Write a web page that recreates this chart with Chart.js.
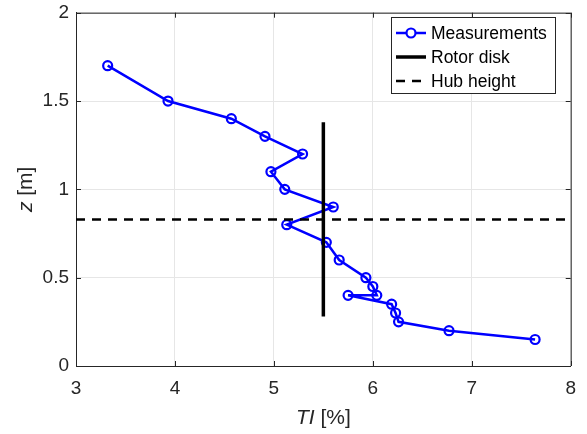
<!DOCTYPE html>
<html>
<head>
<meta charset="utf-8">
<title>Turbulence intensity profile</title>
<script src="https://cdn.jsdelivr.net/npm/chart.js@4.4.1/dist/chart.umd.min.js"></script>
<style>
  html, body { margin: 0; padding: 0; background: #fff; }
  #wrap { width: 587px; height: 434px; }
</style>
</head>
<body>
<div id="wrap"><canvas id="tiChart" width="587" height="434"></canvas></div>
<script>
// measured turbulence intensity [%] against height z [m]
const tiValues = [3.32, 3.93, 4.57, 4.91, 5.29, 4.97, 5.11, 5.60, 5.13, 5.53, 5.66, 5.93, 6.00, 6.04, 5.75, 6.19, 6.23, 6.26, 6.77, 7.64];
const zValues  = [1.70, 1.50, 1.40, 1.30, 1.20, 1.10, 1.00, 0.90, 0.80, 0.70, 0.60, 0.50, 0.45, 0.40, 0.40, 0.35, 0.30, 0.25, 0.20, 0.15];

// turbine geometry
const hubHeight = 0.83;
const rotorBottom = 0.28;
const rotorTop = 1.38;
const rotorX = 5.5;

const xRange = [3, 8];
const yRange = [0, 2];

const FONT = "'Liberation Sans', Arial, Helvetica, sans-serif";
const AXIS_COLOR = '#262626';

const measurements = tiValues.map((t, i) => ({ x: t, y: zValues[i] }));
const rotorLine = [{ x: rotorX, y: rotorBottom }, { x: rotorX, y: rotorTop }];
const hubLine = [{ x: xRange[0], y: hubHeight }, { x: xRange[1], y: hubHeight }];

// matlab-ish box: top/right border plus inward tick marks
const boxPlugin = {
    id: 'boxPlugin',
    afterDraw(chart) {
        const { ctx, chartArea: a, scales } = chart;
        ctx.save();
        ctx.strokeStyle = AXIS_COLOR;
        ctx.lineWidth = 1;
        ctx.beginPath();
        ctx.moveTo(a.left, a.top + 0.5);
        ctx.lineTo(a.right + 0.5, a.top + 0.5);
        ctx.lineTo(a.right + 0.5, a.bottom);
        ctx.stroke();
        const len = 5;
        ctx.beginPath();
        scales.x.ticks.forEach(t => {
            const px = Math.round(scales.x.getPixelForValue(t.value)) + 0.5;
            ctx.moveTo(px, a.bottom); ctx.lineTo(px, a.bottom - len);
            ctx.moveTo(px, a.top); ctx.lineTo(px, a.top + len);
        });
        scales.y.ticks.forEach(t => {
            const py = Math.round(scales.y.getPixelForValue(t.value)) + 0.5;
            ctx.moveTo(a.left, py); ctx.lineTo(a.left + len, py);
            ctx.moveTo(a.right, py); ctx.lineTo(a.right - len, py);
        });
        ctx.stroke();
        ctx.restore();
    }
};

// axis titles with italic symbols
const titlePlugin = {
    id: 'titlePlugin',
    afterDraw(chart) {
        const { ctx, chartArea: a } = chart;
        const drawParts = (parts, cx, cy) => {
            let w = 0;
            parts.forEach(p => { ctx.font = p.font; w += ctx.measureText(p.text).width; });
            let x = cx - w / 2;
            parts.forEach(p => {
                ctx.font = p.font;
                ctx.fillText(p.text, x, cy);
                x += ctx.measureText(p.text).width;
            });
        };
        ctx.save();
        ctx.fillStyle = AXIS_COLOR;
        ctx.textBaseline = 'middle';
        ctx.textAlign = 'left';
        drawParts([
            { text: 'TI', font: 'italic 21px ' + FONT },
            { text: ' [%]', font: '21px ' + FONT }
        ], (a.left + a.right) / 2, 418);
        ctx.translate(26, (a.top + a.bottom) / 2);
        ctx.rotate(-Math.PI / 2);
        drawParts([
            { text: 'z', font: 'italic 21px ' + FONT },
            { text: ' [m]', font: '21px ' + FONT }
        ], 0, 0);
        ctx.restore();
    }
};

// legend box in the upper right corner
const legendPlugin = {
    id: 'legendPlugin',
    afterDraw(chart) {
        const { ctx } = chart;
        const x0 = 391, y0 = 17, w = 164, h = 76;
        ctx.save();
        ctx.fillStyle = '#fff';
        ctx.fillRect(x0, y0, w, h);
        ctx.strokeStyle = AXIS_COLOR;
        ctx.lineWidth = 1;
        ctx.strokeRect(x0 + 0.5, y0 + 0.5, w, h);
        const rows = [33, 57, 81];
        chart.data.datasets.forEach((ds, i) => {
            const y = rows[i];
            ctx.strokeStyle = ds.borderColor;
            ctx.lineWidth = ds.borderWidth;
            ctx.setLineDash(ds.borderDash || []);
            ctx.beginPath();
            ctx.moveTo(396, y);
            ctx.lineTo(426, y);
            ctx.stroke();
            ctx.setLineDash([]);
            if (ds.pointRadius) {
                ctx.lineWidth = ds.pointBorderWidth;
                ctx.fillStyle = '#fff';
                ctx.beginPath();
                ctx.arc(411, y, ds.pointRadius, 0, Math.PI * 2);
                ctx.fill();
                ctx.stroke();
            }
            ctx.fillStyle = '#000';
            ctx.font = '17.5px ' + FONT;
            ctx.textBaseline = 'middle';
            ctx.fillText(ds.label, 431, y + 1);
        });
        ctx.restore();
    }
};

new Chart(document.getElementById('tiChart'), {
    type: 'scatter',
    data: {
        datasets: [
            {
                label: 'Measurements',
                data: measurements,
                showLine: true,
                borderColor: '#0000ff',
                backgroundColor: 'rgba(0,0,0,0)',
                borderWidth: 2.5,
                pointRadius: 4.5,
                pointBorderWidth: 2.2,
                pointBorderColor: '#0000ff',
                pointBackgroundColor: 'rgba(0,0,0,0)',
                order: 3
            },
            {
                label: 'Rotor disk',
                data: rotorLine,
                showLine: true,
                borderColor: '#000',
                borderWidth: 3.5,
                pointRadius: 0,
                order: 2
            },
            {
                label: 'Hub height',
                data: hubLine,
                showLine: true,
                borderColor: '#000',
                borderWidth: 2.5,
                borderDash: [9, 7],
                pointRadius: 0,
                order: 1
            }
        ]
    },
    options: {
        responsive: false,
        animation: false,
        layout: { padding: { top: 0, right: 16, left: 0, bottom: 0 } },
        plugins: {
            legend: { display: false },
            tooltip: { enabled: false }
        },
        scales: {
            x: {
                type: 'linear',
                min: xRange[0],
                max: xRange[1],
                ticks: {
                    stepSize: 1,
                    color: AXIS_COLOR,
                    font: { family: FONT, size: 19 },
                    padding: 11,
                    maxRotation: 0
                },
                grid: { color: '#e6e6e6', drawTicks: false },
                border: { display: true, color: AXIS_COLOR },
                afterFit(scale) { scale.height = 68; }
            },
            y: {
                type: 'linear',
                min: yRange[0],
                max: yRange[1],
                ticks: {
                    stepSize: 0.5,
                    color: AXIS_COLOR,
                    font: { family: FONT, size: 19, lineHeight: 0.6 },
                    padding: 7,
                    callback: v => String(v)
                },
                grid: { color: '#e6e6e6', drawTicks: false },
                border: { display: true, color: AXIS_COLOR },
                afterFit(scale) { scale.width = 76; }
            }
        }
    },
    plugins: [boxPlugin, titlePlugin, legendPlugin]
});
</script>
</body>
</html>
